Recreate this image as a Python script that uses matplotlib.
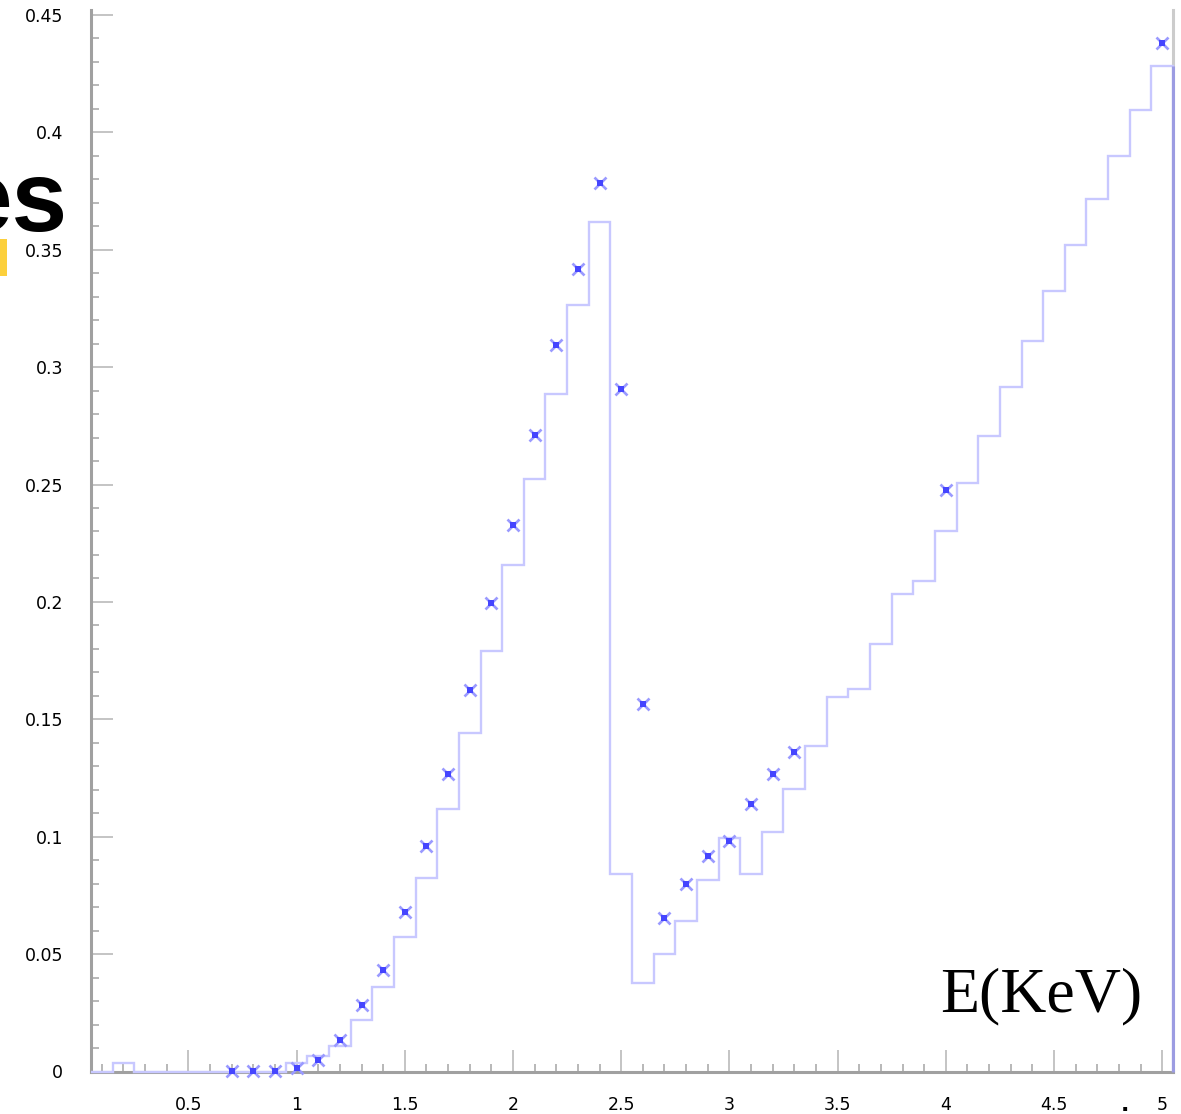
import matplotlib
matplotlib.use("Agg")
import matplotlib.pyplot as plt
from matplotlib.patches import Rectangle
from matplotlib.ticker import MultipleLocator
import numpy as np

# ---------------- data ----------------
bin_edges = np.round(np.arange(0.05, 5.051, 0.1), 2)
hist_values = [
    0.0, 0.0037, 0.0, 0.0, 0.0, 0.0, 0.0, 0.0, 0.0, 0.0037,      # 0.1 .. 1.0
    0.0066, 0.0109, 0.0220, 0.0362, 0.0572, 0.0823, 0.1119, 0.1441, 0.1793, 0.2156,  # 1.1 .. 2.0
    0.2522, 0.2887, 0.3263, 0.3618, 0.0840, 0.0378, 0.0502, 0.0642, 0.0814, 0.0995,  # 2.1 .. 3.0
    0.0840, 0.1019, 0.1203, 0.1387, 0.1597, 0.1627, 0.1821, 0.2034, 0.2090, 0.2300,  # 3.1 .. 4.0
    0.2507, 0.2707, 0.2915, 0.3112, 0.3324, 0.3521, 0.3715, 0.3900, 0.4095, 0.4282,  # 4.1 .. 5.0
]
point_x = [0.7, 0.8, 0.9, 1.0, 1.1, 1.2, 1.3, 1.4, 1.5, 1.6, 1.7, 1.8, 1.9, 2.0,
           2.1, 2.2, 2.3, 2.4, 2.5, 2.6, 2.7, 2.8, 2.9, 3.0, 3.1, 3.2, 3.3, 4.0, 5.0]
point_y = [0.0002, 0.0002, 0.0004, 0.0017, 0.0047, 0.0134, 0.0283, 0.0434, 0.0680, 0.0960,
           0.1265, 0.1625, 0.1996, 0.2326, 0.2711, 0.3096, 0.3420, 0.3783, 0.2907, 0.1564,
           0.0652, 0.0799, 0.0918, 0.0983, 0.1138, 0.1267, 0.1359, 0.2477, 0.4382]
x_ticks = [0.5, 1, 1.5, 2, 2.5, 3, 3.5, 4, 4.5, 5]
x_tick_labels = ["0.5", "1", "1.5", "2", "2.5", "3", "3.5", "4", "4.5", "5"]
y_ticks = [0, 0.05, 0.1, 0.15, 0.2, 0.25, 0.3, 0.35, 0.4, 0.45]
y_tick_labels = ["0", "0.05", "0.1", "0.15", "0.2", "0.25", "0.3", "0.35", "0.4", "0.45"]
x_label = "E(KeV)"

# ---------------- figure ----------------
W, H = 1181, 1114
fig = plt.figure(figsize=(W / 100, H / 100), dpi=100)
left, right, top, bottom = 91, 1173, 10, 1071.5
ax = fig.add_axes([left / W, 1 - bottom / H, (right - left) / W, (bottom - top) / H])
ax.set_xlim(0.05, 5.05)
ax.set_ylim(0, 0.4521)

for s in ("left", "bottom"):
    ax.spines[s].set_color("#a0a0a0")
    ax.spines[s].set_linewidth(2.2)
ax.spines["right"].set_color("#cccccc")
ax.spines["right"].set_linewidth(2.2)
ax.spines["top"].set_visible(False)

ax.set_xticks(x_ticks)
ax.set_xticklabels(x_tick_labels)
ax.set_yticks(y_ticks)
ax.set_yticklabels(y_tick_labels)
ax.xaxis.set_minor_locator(MultipleLocator(0.1))
ax.yaxis.set_minor_locator(MultipleLocator(0.01))
ax.tick_params(axis="both", which="major", direction="in", length=15.5, width=1.4,
               color="#c4c4c4", labelsize=12.5, labelcolor="black")
ax.tick_params(axis="both", which="minor", direction="in", length=5.5, width=1.4,
               color="#b8b8b8")
ax.tick_params(axis="y", which="major", pad=20)
ax.tick_params(axis="x", which="major", pad=18)
ax.tick_params(top=False, right=False, which="both")

# histogram
ax.stairs(hist_values, bin_edges, baseline=0, color="#c8c8ff", lw=1.7, zorder=3, clip_on=False)
ax.vlines(bin_edges[-1], 0, hist_values[-1], color="#9c9ce2", lw=2.2, zorder=3.5, clip_on=False)

# data points
ax.plot(point_x, point_y, ls="none", marker="x", ms=8, mew=1.9, color="#9a9aff", zorder=4, clip_on=False)
ax.plot(point_x, point_y, ls="none", marker="s", ms=4, mew=0, color="#4545ff", zorder=5, clip_on=False)

# axis title inside the frame
fig.text(940 / W, 1 - 1011 / H, x_label, family="Liberation Serif", fontsize=46,
         ha="left", va="baseline", color="black")

# stray slide fragments at the left edge
fig.text(67 / W, 1 - 231 / H, "es", family="Liberation Sans", fontweight="bold",
         fontsize=72, ha="right", va="baseline", color="black")
fig.patches.append(Rectangle((0, 1 - 276 / H), 7 / W, 37 / H, transform=fig.transFigure,
                             facecolor="#fcd03c", edgecolor="none"))
fig.text(1125 / W, 1 - 1111 / H, ".", fontsize=16, fontweight="bold",
         ha="center", va="baseline", color="black")

fig.savefig("out.png", dpi=100)
